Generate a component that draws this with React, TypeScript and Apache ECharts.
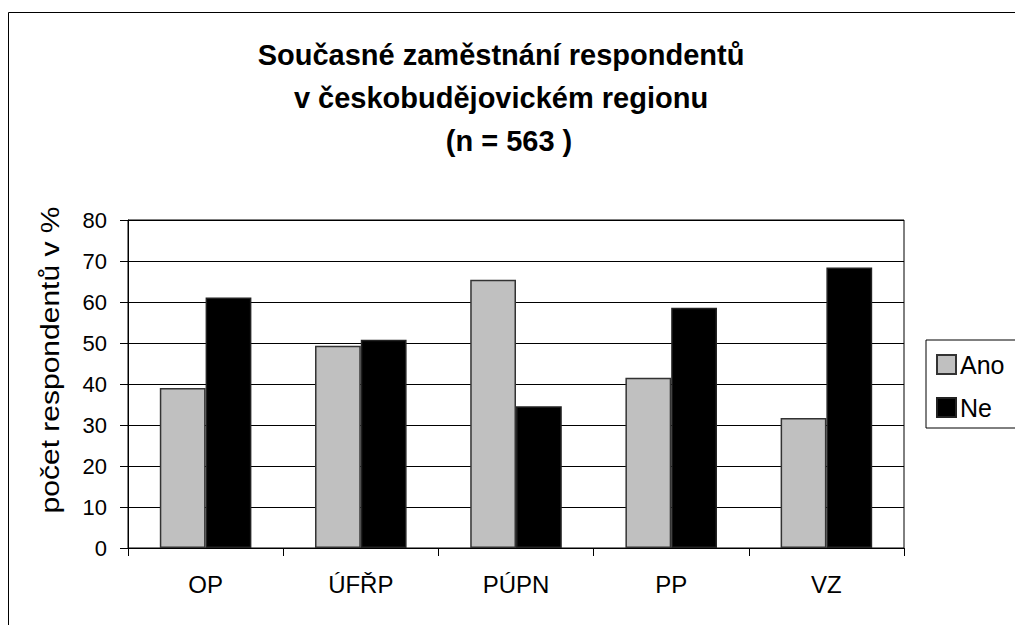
import React, { useEffect, useRef } from "react";
import * as echarts from "echarts";

const categories = ["OP", "ÚFŘP", "PÚPN", "PP", "VZ"];
const anoValues = [39.0, 49.3, 65.4, 41.5, 31.7];
const neValues = [61.1, 50.8, 34.6, 58.6, 68.4];
const yTicks = { min: 0, max: 80, interval: 10 };
const seriesNames = ["Ano", "Ne"];
const titleLines = ["Současné zaměstnání respondentů", "v českobudějovickém regionu", "(n = 563 )"];
const yAxisTitle = "počet respondentů v %";

const FONT = '"Liberation Sans", Arial, Helvetica, sans-serif';

export default function App() {
  const ref = useRef<HTMLDivElement>(null);
  useEffect(() => {
    if (!ref.current) return;
    const chart = echarts.init(ref.current, undefined, { renderer: "svg" });
    const titleStyle = {
      fill: "#000",
      fontSize: 29,
      fontWeight: "bold",
      fontFamily: FONT,
      lineHeight: 43,
      textAlign: "center",
      textVerticalAlign: "top",
    };
    chart.setOption({
      animation: false,
      backgroundColor: "#fff",
      textStyle: { fontFamily: FONT },
      graphic: [
        {
          type: "rect",
          shape: { x: 8.5, y: 12.5, width: 1200, height: 800 },
          style: { fill: "none", stroke: "#000", lineWidth: 1 },
          silent: true,
        },
        {
          type: "text",
          x: 501,
          y: 33,
          style: { ...titleStyle, text: titleLines.slice(0, 2).join("\n") },
        },
        {
          type: "text",
          x: 509,
          y: 119,
          style: { ...titleStyle, text: titleLines[2] },
        },
        {
          type: "text",
          x: 50,
          y: 360,
          rotation: Math.PI / 2,
          scaleX: 1.2,
          style: {
            text: yAxisTitle,
            fill: "#000",
            fontSize: 25,
            fontFamily: FONT,
            textAlign: "center",
            textVerticalAlign: "middle",
          },
        },
      ],
      legend: {
        orient: "vertical",
        left: 926,
        top: 340,
        padding: [12, 40, 8, 10],
        itemWidth: 19,
        itemHeight: 19,
        itemGap: 18,
        borderColor: "#000",
        borderWidth: 1,
        backgroundColor: "#fff",
        icon: "rect",
        textStyle: { fontSize: 25, color: "#000", fontFamily: FONT, padding: [0, 0, 0, -1] },
        data: seriesNames,
      },
      grid: {
        left: 128,
        right: 111,
        top: 220,
        bottom: 77,
        show: true,
        borderColor: "#000",
        borderWidth: 1,
        backgroundColor: "transparent",
      },
      xAxis: {
        type: "category",
        data: categories,
        boundaryGap: true,
        axisLine: { show: true, lineStyle: { color: "#000", width: 1 } },
        axisTick: { show: true, length: 8, alignWithLabel: false, lineStyle: { color: "#000" } },
        axisLabel: { fontSize: 24, color: "#000", margin: 24, fontFamily: FONT },
        splitLine: { show: false },
      },
      yAxis: {
        type: "value",
        min: yTicks.min,
        max: yTicks.max,
        interval: yTicks.interval,
        axisLine: { show: true, lineStyle: { color: "#000", width: 1 } },
        axisTick: { show: true, length: 8, inside: false, lineStyle: { color: "#000" } },
        axisLabel: { fontSize: 22, color: "#000", margin: 21, fontFamily: FONT },
        splitLine: { show: true, lineStyle: { color: "#000", width: 1 } },
      },
      series: [
        {
          name: seriesNames[0],
          type: "bar",
          data: anoValues,
          barGap: "0%",
          barCategoryGap: "41%",
          itemStyle: { color: "#c0c0c0", borderColor: "#333", borderWidth: 1.5 },
        },
        {
          name: seriesNames[1],
          type: "bar",
          data: neValues,
          barGap: "0%",
          barCategoryGap: "41%",
          itemStyle: { color: "#000", borderColor: "#222", borderWidth: 1.5 },
        },
      ],
    });
    return () => chart.dispose();
  }, []);
  return (
    <div
      ref={ref}
      style={{ position: "fixed", left: 0, top: 0, width: 1015, height: 625 }}
    />
  );
}
